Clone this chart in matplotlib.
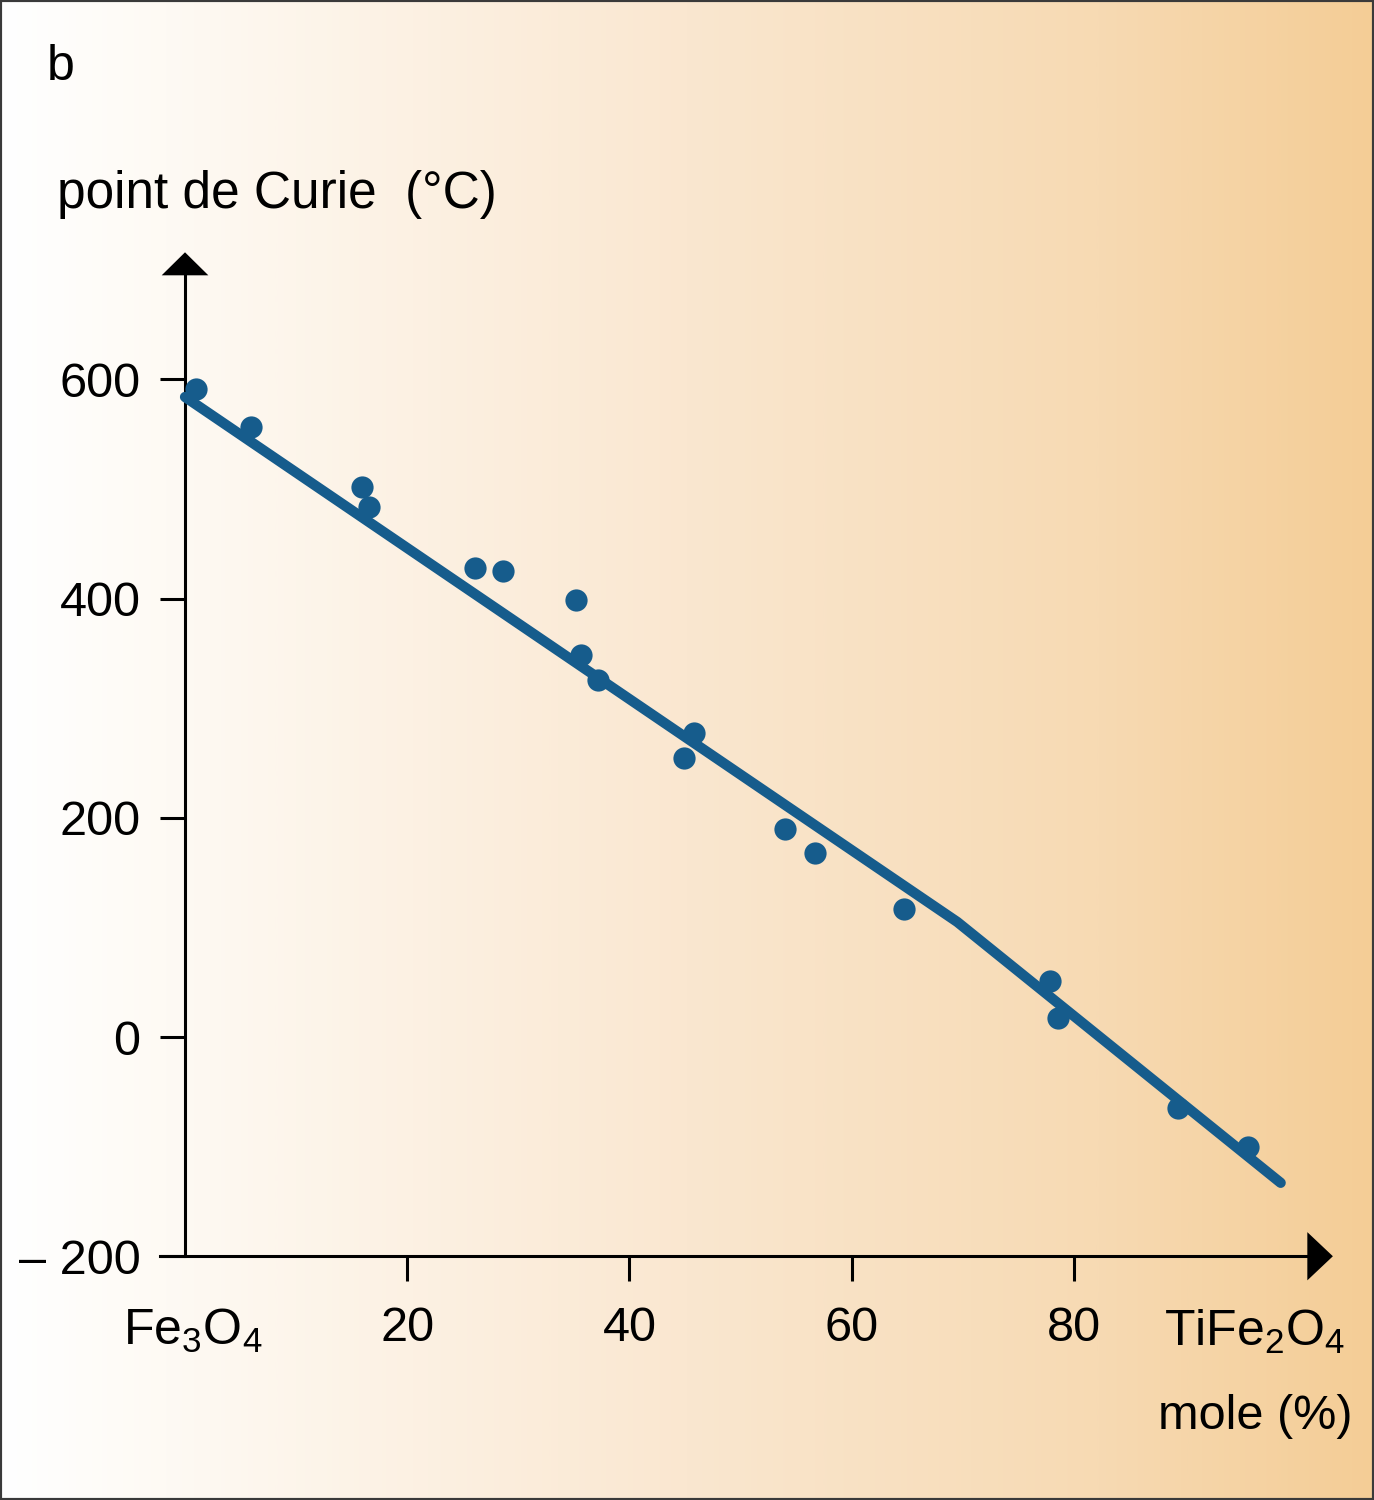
import numpy as np
import matplotlib
matplotlib.use("Agg")
import matplotlib.pyplot as plt
from matplotlib.colors import LinearSegmentedColormap
from matplotlib.patches import Polygon, Rectangle

# measured Curie points vs. TiFe2O4 content
mole_pct = [1.0, 5.9, 15.9, 16.6, 26.1, 28.6, 35.2, 35.6, 37.2, 44.9, 45.8,
            54.0, 56.7, 64.7, 77.8, 78.6, 89.4, 95.7]
curie_c = [591, 557, 502, 484, 428, 425, 399, 349, 326, 255, 277,
           190, 168, 117, 51, 17, -65, -100]

# drawn trend line
fit_x = [0, 69.5, 98.6]
fit_y = [584, 105, -133]

x_ticks = [20, 40, 60, 80]
y_ticks = [600, 400, 200, 0, -200]
y_tick_labels = ["600", "400", "200", "0", "\u2013 200"]

blue = "#165C8C"

plt.rcParams["font.family"] = ["Liberation Sans", "DejaVu Sans"]
plt.rcParams["mathtext.default"] = "regular"


def main():
    fig = plt.figure(figsize=(13.74, 15.0), dpi=100)

    # background gradient, white -> light orange
    bg = fig.add_axes([0, 0, 1, 1], zorder=0)
    cmap = LinearSegmentedColormap.from_list(
        "warm", [(0, "#FFFFFF"), (0.12, "#FEFAF4"), (0.5, "#FAE7D0"),
                 (0.8, "#F7DAB3"), (1.0, "#F4CD96")])
    bg.imshow(np.linspace(0, 1, 512)[None, :], cmap=cmap, aspect="auto",
              extent=[0, 1, 0, 1])
    bg.set_axis_off()

    ax = fig.add_axes([0, 0, 1, 1], zorder=1)
    ax.patch.set_alpha(0)
    ax.set_xlim(-16.65, 107.0)
    ax.set_ylim(-422.4, 946.2)

    for s in ["top", "right"]:
        ax.spines[s].set_visible(False)
    ax.spines["left"].set_position(("data", 0))
    ax.spines["bottom"].set_position(("data", -200))
    ax.spines["left"].set_bounds(-200, 695)
    ax.spines["bottom"].set_bounds(-2.25, 101.1)
    for s in ["left", "bottom"]:
        ax.spines[s].set_linewidth(2.2)

    ax.set_xticks(x_ticks)
    ax.set_yticks(y_ticks, labels=y_tick_labels)
    ax.tick_params(axis="both", direction="out", length=18, width=2.2,
                   labelsize=35, colors="black")
    ax.tick_params(axis="x", pad=18)
    ax.tick_params(axis="y", pad=14)

    # arrow heads
    ax.add_patch(Polygon([[-2.1, 695], [2.1, 695], [0, 716]], closed=True,
                         color="black", lw=0))
    ax.add_patch(Polygon([[101.0, -222], [101.0, -178], [103.3, -200]],
                         closed=True, color="black", lw=0))

    ax.plot(fit_x, fit_y, color=blue, lw=7.4, solid_capstyle="round",
            solid_joinstyle="round", zorder=3)
    ax.plot(mole_pct, curie_c, "o", color=blue, ms=16, mec="none", zorder=4)

    fig.text(0.0342, 0.9467, "b", fontsize=36, va="baseline")
    fig.text(0.0415, 0.8613, "point de Curie  (\u00b0C)", fontsize=37,
             va="baseline")
    fig.text(0.0895, 0.1033, "Fe$_3$O$_4$", fontsize=36, va="baseline")
    fig.text(0.9789, 0.1027, "TiFe$_2$O$_4$", fontsize=36, va="baseline",
             ha="right")
    fig.text(0.984, 0.0473, "mole (%)", fontsize=35, va="baseline",
             ha="right")

    fig.add_artist(Rectangle((0, 0), 1, 1, transform=fig.transFigure,
                             fill=False, lw=3, ec="#3a3a3a"))

    fig.savefig("out.png", dpi=100)


if __name__ == "__main__":
    main()
